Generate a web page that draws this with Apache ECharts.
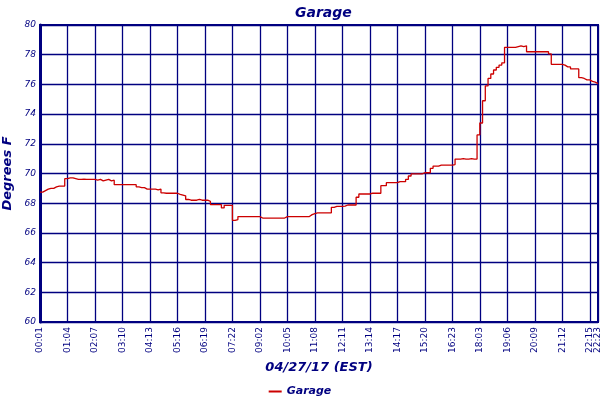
<!DOCTYPE html>
<html>
<head>
<meta charset="utf-8">
<script src="https://cdn.jsdelivr.net/npm/echarts@6/dist/echarts.min.js"></script>
<style>html,body{margin:0;padding:0;background:#fff}#c{width:600px;height:400px}</style>
</head>
<body>
<div id="c"></div>
<script>
// tick labels: one every 10 samples, plus the final sample
const tickLabels = ['00:01','01:04','02:07','03:10','04:13','05:16','06:19','07:22','09:02','10:05','11:08',
  '12:11','13:14','14:17','15:20','16:23','18:03','19:06','20:09','21:12','22:15','22:23'];
const samplesPerTick = 10;
// temperature readings, degrees F (10 samples per labelled interval)
const garage = [
  68.75,68.85,68.95,69.0,69.0,69.1,69.15,69.15,69.15,69.65,
  69.7,69.7,69.65,69.6,69.6,69.62,69.6,69.6,69.6,69.6,
  69.55,69.6,69.5,69.55,69.6,69.5,69.55,69.25,69.25,69.25,
  69.25,69.25,69.25,69.25,69.25,69.1,69.05,69.05,68.95,68.95,
  68.95,68.95,68.9,68.95,68.7,68.67,68.67,68.67,68.67,68.67,
  68.6,68.55,68.5,68.25,68.2,68.2,68.2,68.25,68.2,68.2,
  68.2,68.13,67.9,67.9,67.9,67.9,67.68,67.86,67.86,67.86,
  66.85,66.9,67.1,67.1,67.1,67.1,67.1,67.1,67.1,67.1,
  67.0,67.0,67.0,67.0,67.0,67.0,67.0,67.0,67.0,67.1,
  67.1,67.1,67.1,67.1,67.1,67.1,67.1,67.1,67.23,67.3,
  67.35,67.35,67.35,67.35,67.35,67.35,67.72,67.78,67.78,67.78,
  67.8,67.88,67.88,67.88,67.88,68.4,68.62,68.62,68.62,68.62,
  68.67,68.67,68.67,68.67,69.18,69.18,69.38,69.38,69.38,69.38,
  69.45,69.45,69.45,69.6,69.83,69.97,69.97,69.97,69.97,70.05,
  70.05,70.05,70.35,70.5,70.5,70.57,70.57,70.57,70.57,70.57,
  70.6,70.97,70.97,71.0,70.97,70.97,71.0,70.97,70.97,72.6,
  73.4,74.9,75.9,76.4,76.7,76.97,77.15,77.3,77.45,78.5,
  78.5,78.5,78.5,78.55,78.6,78.55,78.6,78.2,78.2,78.2,
  78.2,78.2,78.2,78.2,78.2,78.05,77.35,77.35,77.35,77.35,
  77.3,77.18,77.18,77.04,77.04,77.04,76.45,76.4,76.3,76.3,
  76.2,76.15,76.05,76.07
];
const yTicks = [60,62,64,66,68,70,72,74,76,78,80];

const navy = '#000080';
const lastIndex = garage.length - 1;
const tickPositions = tickLabels.map((t, k) => k < tickLabels.length - 1 ? k * samplesPerTick : lastIndex);
const labelFormatter = function (v) {
  const k = tickPositions.indexOf(Math.round(v));
  return k >= 0 ? tickLabels[k] : '';
};
const labelStyle = {rotate: 90, fontSize: 9, color: navy, fontFamily: 'DejaVu Sans', margin: 5,
  hideOverlap: false, formatter: labelFormatter};

const chart = echarts.init(document.getElementById('c'), null, {renderer: 'canvas'});
chart.setOption({
  animation: false,
  backgroundColor: '#fff',
  title: {
    text: 'Garage', left: 290, top: 1,
    textStyle: {fontFamily: 'DejaVu Sans', fontStyle: 'italic', fontWeight: 'bold', fontSize: 14, color: navy}
  },
  legend: {
    top: 381, left: 'center',
    data: ['Garage'],
    icon: 'rect', itemWidth: 13, itemHeight: 2, itemGap: 4,
    textStyle: {fontFamily: 'DejaVu Sans', fontStyle: 'italic', fontWeight: 'bold', fontSize: 11, color: navy}
  },
  grid: {left: 40, right: 2, top: 25, bottom: 78, containLabel: false, outerBoundsMode: 'none',
    show: true, borderColor: navy, borderWidth: 2, backgroundColor: '#fff'},
  xAxis: [{
    type: 'value', min: 0, max: lastIndex, interval: samplesPerTick,
    name: '04/27/17 (EST)', nameLocation: 'middle', nameGap: 37,
    nameTextStyle: {fontFamily: 'DejaVu Sans', fontStyle: 'italic', fontWeight: 'bold', fontSize: 13, color: navy},
    axisLine: {show: true, lineStyle: {color: navy, width: 2}},
    axisTick: {show: false},
    splitLine: {show: true, lineStyle: {color: navy, width: 1.3}},
    axisLabel: Object.assign({customValues: tickPositions.slice(0, -1), showMinLabel: true}, labelStyle)
  }, {
    type: 'value', min: 0, max: lastIndex, position: 'bottom',
    axisLine: {show: false}, axisTick: {show: false}, splitLine: {show: false},
    axisLabel: Object.assign({customValues: [lastIndex], showMaxLabel: true}, labelStyle)
  }],
  yAxis: {
    type: 'value', min: yTicks[0], max: yTicks[yTicks.length - 1], interval: 2,
    name: 'Degrees F', nameLocation: 'middle', nameGap: 26,
    nameTextStyle: {fontFamily: 'DejaVu Sans', fontStyle: 'italic', fontWeight: 'bold', fontSize: 13, color: navy},
    axisLine: {show: true, lineStyle: {color: navy, width: 3}},
    axisTick: {show: false},
    splitLine: {show: true, lineStyle: {color: navy, width: 1.3}},
    axisLabel: {fontSize: 9, color: navy, fontStyle: 'italic', fontFamily: 'DejaVu Sans', margin: 4}
  },
  series: [{
    name: 'Garage', type: 'line', step: 'end', symbol: 'none', xAxisIndex: 0,
    color: '#cc0000',
    lineStyle: {color: '#cc0000', width: 1.3},
    data: garage.map((v, i) => [i, v])
  }]
});
</script>
</body>
</html>
